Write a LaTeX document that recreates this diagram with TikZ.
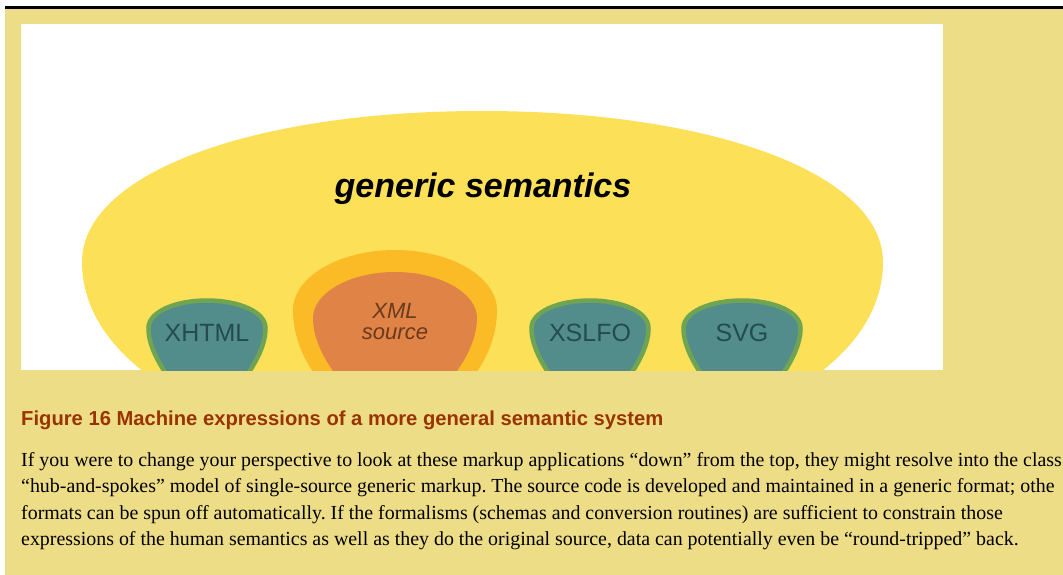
\documentclass[tikz,border=0pt]{standalone}
\usepackage{fontspec}
\setmainfont{Liberation Serif}
\setsansfont{Liberation Sans}
\definecolor{khaki}{HTML}{EEDD87}
\definecolor{sunny}{HTML}{FCE058}
\definecolor{blobteal}{HTML}{528D8C}
\definecolor{blobrim}{HTML}{6FA552}
\definecolor{tealtext}{HTML}{244C4D}
\definecolor{halo}{HTML}{FBBB26}
\definecolor{coreorange}{HTML}{DF8347}
\definecolor{coretext}{HTML}{6A3A1C}
\definecolor{captionred}{HTML}{993300}
\tikzset{
  tealblob/.style={fill=blobteal, draw=blobrim, line width=4.5pt},
  bloblabel/.style={anchor=base, inner sep=0pt, text=tealtext,
    font=\sffamily\fontsize{25}{30}\selectfont},
  bodyline/.style={anchor=base west, inner sep=0pt,
    font=\rmfamily\frenchspacing\fontsize{19.9}{26}\selectfont}
}
% shield-shaped blob whose top edge sits at (#1,298)
\newcommand\shieldblob[1]{%
  \path[tealblob] (#1,418) .. controls (#1-20,403) and (#1-59,360) .. (#1-58.5,328)
    .. controls (#1-58.5,312) and (#1-32,300.5) .. (#1,300.5)
    .. controls (#1+32,300.5) and (#1+58.5,312) .. (#1+58.5,328)
    .. controls (#1+59,360) and (#1+20,403) .. (#1,418) -- cycle;}
\begin{document}
\begin{tikzpicture}[x=1pt,y=-1pt]
\useasboundingbox (0,0) rectangle (1063,575);
\fill[white] (0,0) rectangle (1063,575);
\fill[khaki] (5,9) rectangle (1063,575);
\fill[black] (5,6) rectangle (1063,9);
\fill[white] (21,24) rectangle (943,370);

\begin{scope}
  \clip (21,24) rectangle (943,370);
  % the wide field of generic semantics
  \fill[sunny] (482,111) .. controls (714.6,111) and (883,174.4) .. (883,262)
    .. controls (883,376) and (714.6,459) .. (482,459)
    .. controls (249.4,459) and (82,376) .. (82,262)
    .. controls (82,174.4) and (249.4,111) .. (482,111) -- cycle;
  % XML source: glow and core
  \fill[halo] (395,440) .. controls (365,425) and (293,380) .. (293,310)
    .. controls (293,277) and (339,250) .. (395,250)
    .. controls (451,250) and (497,277) .. (497,310)
    .. controls (497,380) and (425,425) .. (395,440) -- cycle;
  \fill[coreorange] (395,430) .. controls (370,415) and (313,365) .. (313,318)
    .. controls (313,293) and (350,272) .. (395,272)
    .. controls (440,272) and (477,293) .. (477,318)
    .. controls (477,365) and (420,415) .. (395,430) -- cycle;
  % derived formats
  \shieldblob{207}
  \shieldblob{590}
  \shieldblob{742}
\end{scope}

\node[anchor=base, inner sep=0pt, font=\sffamily\bfseries\itshape\fontsize{34}{40}\selectfont]
  (gs) at (483,197) {generic semantics};
\node[bloblabel] (xhtml) at (207,341) {XHTML};
\node[align=center, inner sep=0pt, text=coretext,
  font=\sffamily\itshape\fontsize{22}{21}\selectfont] (xml) at (395,322) {XML\\source};
\node[bloblabel] (xslfo) at (590,341) {XSLFO};
\node[bloblabel] (svg) at (742,341) {SVG};

\node[anchor=base west, inner sep=0pt, text=captionred,
  font=\sffamily\bfseries\fontsize{20.2}{24}\selectfont] (cap) at (21,425)
  {Figure 16 Machine expressions of a more general semantic system};

\node[bodyline] (l1) at (21,466) {If you were to change your perspective to look at these markup applications “down” from the top, they might resolve into the class};
\node[bodyline] (l2) at (21,492) {“hub-and-spokes” model of single-source generic markup. The source code is developed and maintained in a generic format; othe};
\node[bodyline] (l3) at (21,519) {formats can be spun off automatically. If the formalisms (schemas and conversion routines) are sufficient to constrain those};
\node[bodyline] (l4) at (21,545) {expressions of the human semantics as well as they do the original source, data can potentially even be “round-tripped” back.};
\end{tikzpicture}
\end{document}
